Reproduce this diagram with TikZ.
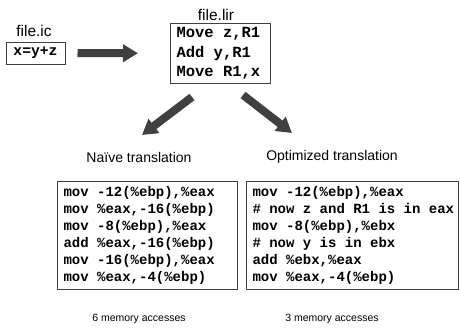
\documentclass[tikz,border=0pt]{standalone}
\usepackage{fontspec}
\setmainfont{Liberation Sans}
\setmonofont{Liberation Mono}
\usetikzlibrary{arrows.meta}
\definecolor{boxgray}{RGB}{64,64,64}
\definecolor{arrgray}{RGB}{64,64,64}
\newcommand{\codesize}[2]{\ttfamily\bfseries\fontsize{#1}{#2}\selectfont}
\newcommand{\csp}{\hspace*{0.6em}}
\begin{document}
\begin{tikzpicture}[x=1pt,y=-1pt,
  codebox/.style={draw=boxgray, line width=1pt, inner xsep=6pt, inner ysep=0pt, align=left, anchor=north west},
  lbl/.style={inner sep=0pt, text=black},
  bigarrow/.style={draw=arrgray, line width=8pt, -{Triangle[width=17pt,length=15pt]}}]
\useasboundingbox (0,0) rectangle (460,327);

% labels
\node[lbl, anchor=base, font=\fontsize{15.5}{18}\selectfont] (icl) at (34,36) {file.ic};
\node[lbl, anchor=base, font=\fontsize{15.5}{18}\selectfont] (lirl) at (216,20.5) {file.lir};

% source box
\node[draw=boxgray, line width=1pt, minimum width=59pt, minimum height=22pt, inner sep=0pt,
      font=\codesize{14.7}{17}] (ic) at (35.5,53) {x=y+z};

% lir box
\node[codebox, text width=88pt, minimum height=60pt,
      font=\codesize{15.5}{19.5}] (lir) at (170,23)
  {\mbox{Move\csp z,R1}\\\mbox{Add\csp y,R1}\\\mbox{Move\csp R1,x}};

% arrows
\draw[bigarrow, shorten <=12pt, shorten >=32pt] (ic) -- (lir);
\coordinate (a1s) at (192,97);
\coordinate (a1e) at (142,135);
\coordinate (a2s) at (243,95);
\coordinate (a2e) at (292,133);
\draw[bigarrow] (a1s) -- (a1e);
\draw[bigarrow] (a2s) -- (a2e);

% headings
\node[lbl, anchor=base, font=\fontsize{14}{17}\selectfont] (naive) at (139,162) {Naïve translation};
\node[lbl, anchor=base, font=\fontsize{14}{17}\selectfont] (opt) at (332,160.5) {Optimized translation};

% code boxes
\node[codebox, text width=168pt, minimum height=108pt,
      font=\codesize{14}{17}] (naivecode) at (57,181)
  {\mbox{mov\csp -12(\%ebp),\%eax}\\
   \mbox{mov\csp \%eax,-16(\%ebp)}\\
   \mbox{mov\csp -8(\%ebp),\%eax}\\
   \mbox{add\csp \%eax,-16(\%ebp)}\\
   \mbox{mov\csp -16(\%ebp),\%eax}\\
   \mbox{mov\csp \%eax,-4(\%ebp)}};
\node[codebox, text width=200pt, minimum height=108pt,
      font=\codesize{14}{17}] (optcode) at (246,181)
  {\mbox{mov\csp -12(\%ebp),\%eax}\\
   \mbox{\#\csp now\csp z\csp and\csp R1\csp is\csp in\csp eax}\\
   \mbox{mov\csp -8(\%ebp),\%ebx}\\
   \mbox{\#\csp now\csp y\csp is\csp in\csp ebx}\\
   \mbox{add\csp \%ebx,\%eax}\\
   \mbox{mov\csp \%eax,-4(\%ebp)}};

% footers
\node[lbl, anchor=base, font=\fontsize{10.5}{12}\selectfont] (naivecount) at (139,321) {6 memory accesses};
\node[lbl, anchor=base, font=\fontsize{10.5}{12}\selectfont] (optcount) at (332,321) {3 memory accesses};
\end{tikzpicture}
\end{document}
